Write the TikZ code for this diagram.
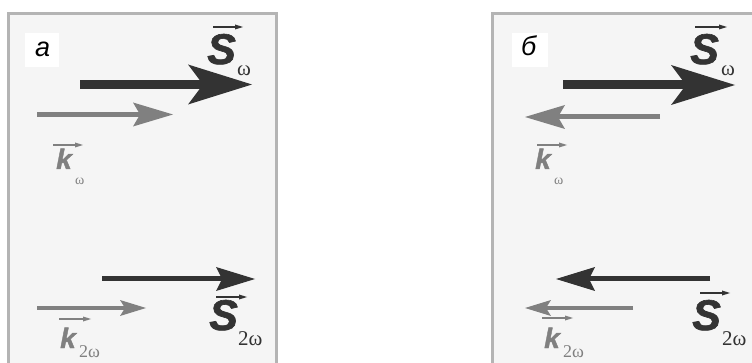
\documentclass[tikz,border=0pt]{standalone}
\usepackage{fontspec}
\setmainfont{Liberation Sans}
\newfontfamily\subserif{Liberation Serif}
\newfontfamily\heavysans[FakeBold=1.5]{Liberation Sans Bold Italic}
\usetikzlibrary{arrows.meta}

\definecolor{framegray}{HTML}{B4B4B4}
\definecolor{panelfill}{HTML}{F5F5F5}
\definecolor{darkvec}{HTML}{333333}
\definecolor{lightvec}{HTML}{808080}

\tikzset{
  panel/.style={draw=framegray, line width=3.5pt, fill=panelfill},
  tagbox/.style={fill=white, draw=none},
  tagtext/.style={anchor=base west, inner sep=0pt, font=\fontsize{27}{27}\selectfont\itshape},
  letterS/.style={anchor=base west, inner sep=0pt, text=darkvec,
    font=\fontsize{43}{43}\selectfont\heavysans},
  letterk/.style={anchor=base west, inner sep=0pt, text=lightvec,
    font=\fontsize{28}{28}\selectfont\heavysans},
  subS/.style={anchor=base west, inner sep=0pt, text=darkvec,
    font=\fontsize{21}{21}\selectfont\subserif},
  subk/.style={anchor=base west, inner sep=0pt, text=lightvec,
    font=\fontsize{18}{18}\selectfont\subserif},
  subksmall/.style={subk, font=\fontsize{14}{14}\selectfont\subserif},
  % main wave vectors
  vecSone/.style={darkvec, line width=9pt,
    -{Stealth[length=64pt,width=40pt,inset=15pt,line width=0pt]}},
  veckone/.style={lightvec, line width=5pt,
    -{Stealth[length=40pt,width=24pt,inset=7pt,line width=0pt]}},
  vecStwo/.style={darkvec, line width=5pt,
    -{Stealth[length=39pt,width=24pt,inset=6pt,line width=0pt]}},
  vecktwo/.style={lightvec, line width=3.5pt,
    -{Stealth[length=26pt,width=16pt,inset=5pt,line width=0pt]}},
  % small arrows over the letters
  overS/.style={darkvec, line width=1.4pt,
    -{Triangle[length=8pt,width=5pt,line width=0pt]}},
  overk/.style={lightvec, line width=1.4pt,
    -{Triangle[length=8pt,width=5pt,line width=0pt]}},
}

\begin{document}
\begin{tikzpicture}[x=1pt,y=-1pt]
  \useasboundingbox (0,0) rectangle (752,363);
  \clip (0,0) rectangle (752,363);

  % two panels, open at the bottom
  \path[panel] (8.5,13.5) rectangle (276.5,380);
  \path[panel] (492.5,13.5) rectangle (780,380);

  % ---------- panel (a): co-directional ----------
  \path[tagbox] (25,33) rectangle (59,67);
  \node[tagtext] (tagA) at (35,57) {a};

  \coordinate (aS1a) at (80,84.5);  \coordinate (aS1b) at (252,84.5);
  \draw[vecSone] (aS1a) -- (aS1b);
  \coordinate (ak1a) at (37,114.5); \coordinate (ak1b) at (173,114.5);
  \draw[veckone] (ak1a) -- (ak1b);
  \coordinate (aS2a) at (102,279);  \coordinate (aS2b) at (255,279);
  \draw[vecStwo] (aS2a) -- (aS2b);
  \coordinate (ak2a) at (37,308);   \coordinate (ak2b) at (146,308);
  \draw[vecktwo] (ak2a) -- (ak2b);

  % labels
  \node[letterS] (aSw) at (207,64) {S};
  \node[subS] (aSwi) at (237,76) {ω};
  \draw[overS] (213,27) -- (243,27);

  \node[letterk] (akw) at (56,169) {k};
  \node[subksmall] (akwi) at (75,185) {ω};
  \draw[overk] (53,145) -- (83,145);

  \node[letterS] (aS2w) at (209,330) {S};
  \node[subS] (aS2wi) at (238,345) {2ω};
  \draw[overS] (216,297) -- (247,297);

  \node[letterk] (ak2w) at (60,348) {k};
  \node[subk] (ak2wi) at (79,357) {2ω};
  \draw[overk] (59,319) -- (91,319);

  % ---------- panel (б): counter-directional ----------
  \path[tagbox] (512,33) rectangle (548,67);
  \node[tagtext] (tagB) at (521,56) {б};

  \coordinate (bS1a) at (563,85);   \coordinate (bS1b) at (735,85);
  \draw[vecSone] (bS1a) -- (bS1b);
  \coordinate (bk1a) at (660,117);  \coordinate (bk1b) at (525,117);
  \draw[veckone] (bk1a) -- (bk1b);
  \coordinate (bS2a) at (710,279);  \coordinate (bS2b) at (556,279);
  \draw[vecStwo] (bS2a) -- (bS2b);
  \coordinate (bk2a) at (633,308);  \coordinate (bk2b) at (525,308);
  \draw[vecktwo] (bk2a) -- (bk2b);

  \node[letterS] (bSw) at (690,64) {S};
  \node[subS] (bSwi) at (721,76) {ω};
  \draw[overS] (695,27) -- (727,27);

  \node[letterk] (bkw) at (535,169) {k};
  \node[subksmall] (bkwi) at (554,185) {ω};
  \draw[overk] (537,145) -- (567,145);

  \node[letterS] (bS2w) at (692,330) {S};
  \node[subS] (bS2wi) at (722,345) {2ω};
  \draw[overS] (700,293) -- (730,293);

  \node[letterk] (bk2w) at (544,348) {k};
  \node[subk] (bk2wi) at (563,357) {2ω};
  \draw[overk] (542,318) -- (573,318);
\end{tikzpicture}
\end{document}
